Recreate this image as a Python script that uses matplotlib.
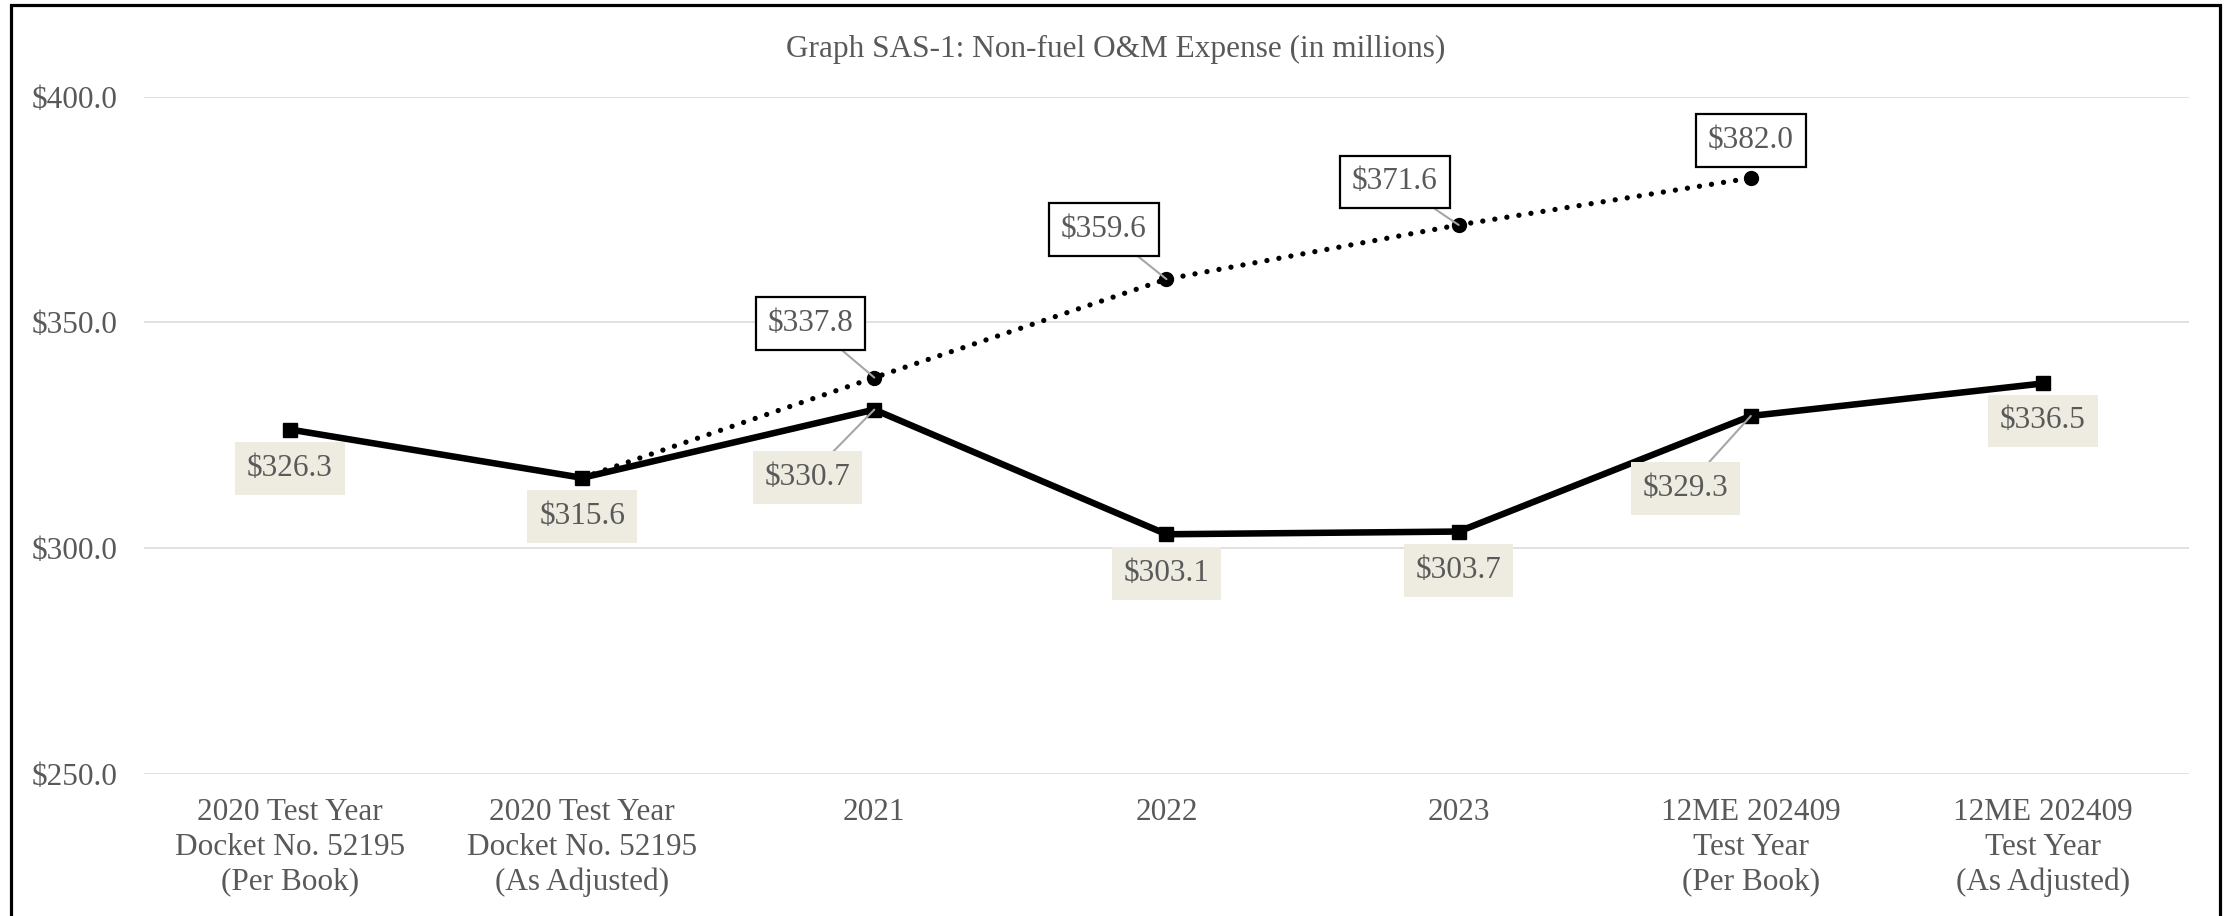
import matplotlib
matplotlib.use("Agg")
import matplotlib.pyplot as plt
from matplotlib.patches import Rectangle
import numpy as np

categories = [
    "2020 Test Year\nDocket No. 52195\n(Per Book)",
    "2020 Test Year\nDocket No. 52195\n(As Adjusted)",
    "2021",
    "2022",
    "2023",
    "12ME 202409\nTest Year\n(Per Book)",
    "12ME 202409\nTest Year\n(As Adjusted)",
]
actual = [326.3, 315.6, 330.7, 303.1, 303.7, 329.3, 336.5]
projected = [np.nan, 315.6, 337.8, 359.6, 371.6, 382.0, np.nan]
title = "Graph SAS-1: Non-fuel O&M Expense (in millions)"
yticks = [250, 300, 350, 400]

# label offsets (points)
actual_offsets = [(0, -28), (0, -28), (-48, -49), (0, -28), (0, -28), (-47, -52), (0, -27)]
proj_offsets = [None, None, (-46, 39), (-45, 36), (-46, 31), (0, 27), None]

plt.rcParams['font.family'] = ['Liberation Serif', 'DejaVu Serif']
gray = "#595959"
FS = 22.5

fig = plt.figure(figsize=(22.31, 9.16), dpi=100)
ax = fig.add_axes([0.0645, 0.155, 0.9167, 0.7394])
x = np.arange(len(categories))

ax.plot(x, projected, color="black", lw=3.8, linestyle=(0, (0.01, 2.3)),
        dash_capstyle="round", zorder=3)
ax.plot(x[2:6], np.array(projected)[2:6], linestyle="none", marker="o",
        markersize=10, color="black", zorder=4)
ax.plot(x, actual, color="black", lw=4.7, marker="s", markersize=10,
        solid_joinstyle="miter", zorder=5)

for i, v in enumerate(actual):
    dx, dy = actual_offsets[i]
    arrow = None
    if dx != 0:
        arrow = dict(arrowstyle="-", color="#A6A6A6", lw=1.5, shrinkA=0, shrinkB=0)
    ax.annotate(f"${v:.1f}", xy=(i, v), xytext=(dx, dy), textcoords="offset points",
                ha="center", va="center", fontsize=FS, color=gray,
                bbox=dict(boxstyle="square,pad=0.38", fc="#EEECE1", ec="none"),
                arrowprops=arrow, zorder=6)

for i, v in enumerate(projected):
    if proj_offsets[i] is None:
        continue
    dx, dy = proj_offsets[i]
    arrow = None
    if dx != 0:
        arrow = dict(arrowstyle="-", color="#A6A6A6", lw=1.5, shrinkA=0, shrinkB=0)
    ax.annotate(f"${v:.1f}", xy=(i, v), xytext=(dx, dy), textcoords="offset points",
                ha="center", va="center", fontsize=FS, color=gray,
                bbox=dict(boxstyle="square,pad=0.38", fc="white", ec="black", lw=1.6),
                arrowprops=arrow, zorder=6)

ax.set_xlim(-0.5, len(categories) - 0.5)
ax.set_ylim(250, 400)
ax.set_yticks(yticks)
ax.set_yticklabels([f"${t:.1f}" for t in yticks])
ax.set_xticks(x)
ax.set_xticklabels(categories, linespacing=1.27)
ax.tick_params(axis="both", length=0, labelsize=FS, labelcolor=gray)
ax.tick_params(axis="y", pad=19)
ax.tick_params(axis="x", pad=17)
for s in ax.spines.values():
    s.set_visible(False)
ax.grid(axis="y", color="#D9D9D9", lw=1.1)
ax.set_axisbelow(True)

fig.text(0.5, 0.946, title, ha="center", va="center", fontsize=FS, color=gray)

fig.patches.append(Rectangle((11 / 2231, -0.05), (2220 - 11) / 2231, 1.05 - 5 / 916,
                             transform=fig.transFigure, fill=False, ec="black",
                             lw=2.3, clip_on=False))

fig.savefig("out.png", dpi=100)
